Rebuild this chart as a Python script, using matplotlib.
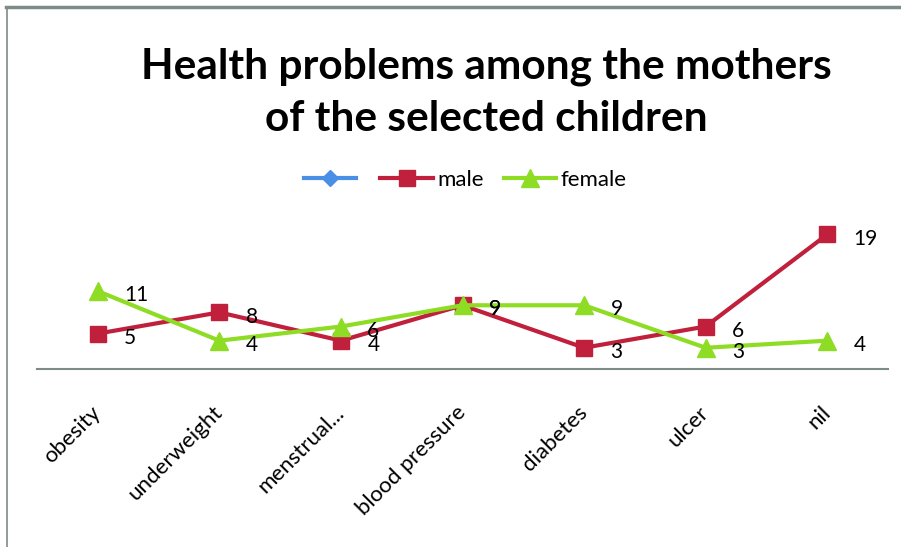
import matplotlib.pyplot as plt
from matplotlib.lines import Line2D
from matplotlib.transforms import ScaledTranslation

categories = ["obesity", "underweight", "menstrual...", "blood pressure",
              "diabetes", "ulcer", "nil"]
male = [5, 8, 4, 9, 3, 6, 19]
female = [11, 4, 6, 9, 9, 3, 4]
blank = []  # first series in the sheet has no values

RED = "#c0203c"
GREEN = "#8fdc25"
BLUE = "#4a8fe6"
FRAME = "#7d8b89"

plt.rcParams["font.family"] = ["Lato", "DejaVu Sans"]

fig = plt.figure(figsize=(9.01, 5.47), dpi=100)
ax = fig.add_axes([37 / 901, 1 - 369 / 547, (888 - 37) / 901, (369 - 192) / 547])

x = list(range(len(categories)))
ax.plot(x[:len(blank)], blank, color=BLUE, lw=3, marker="D", ms=8)
ax.plot(x, male, color=RED, lw=3, marker="s", ms=12, solid_joinstyle="miter")
ax.plot(x, female, color=GREEN, lw=3, marker="^", ms=13)

for i, v in enumerate(male):
    ax.annotate(str(v), (i, v), xytext=(19, -3), textcoords="offset points",
                ha="left", va="center", fontsize=15, color="black")
for i, v in enumerate(female):
    ax.annotate(str(v), (i, v), xytext=(19, -3), textcoords="offset points",
                ha="left", va="center", fontsize=15, color="black")

ax.set_xlim(-0.5, len(categories) - 0.5)
ax.set_ylim(0, 25)
ax.set_yticks([])
ax.set_xticks(x)
ax.set_xticklabels(categories, rotation=45, ha="right", rotation_mode="anchor",
                   fontsize=16)
ax.tick_params(axis="x", length=0, pad=24)
shift = ScaledTranslation(-5 / 72, 0, fig.dpi_scale_trans)
for lab in ax.get_xticklabels():
    lab.set_transform(lab.get_transform() + shift)
for side in ["top", "right", "left"]:
    ax.spines[side].set_visible(False)
ax.spines["bottom"].set_color(FRAME)
ax.spines["bottom"].set_linewidth(1.5)

handles = [
    Line2D([], [], color=BLUE, lw=3, marker="D", ms=8),
    Line2D([], [], color=RED, lw=3, marker="s", ms=12),
    Line2D([], [], color=GREEN, lw=3, marker="^", ms=13),
]
fig.legend(handles, ["", "male", "female"], loc="center",
           bbox_to_anchor=(465 / 901, 1 - 180 / 547), ncol=3, frameon=False,
           fontsize=16, handlelength=2.35, handletextpad=0.2, columnspacing=0.9)

fig.text(486 / 901, 1 - 67 / 547, "Health problems among the mothers",
         ha="center", va="center", fontsize=30.5, fontweight="bold")
fig.text(486 / 901, 1 - 119 / 547, "of the selected children",
         ha="center", va="center", fontsize=30.5, fontweight="bold")

# outer border: top and left edges only
fig.add_artist(Line2D([6 / 901, 1], [1 - 7 / 547, 1 - 7 / 547],
                      color=FRAME, lw=2.5, transform=fig.transFigure))
fig.add_artist(Line2D([7 / 901, 7 / 901], [0, 1 - 7 / 547],
                      color=FRAME, lw=1.2, transform=fig.transFigure))

fig.savefig("out.png", dpi=100)
